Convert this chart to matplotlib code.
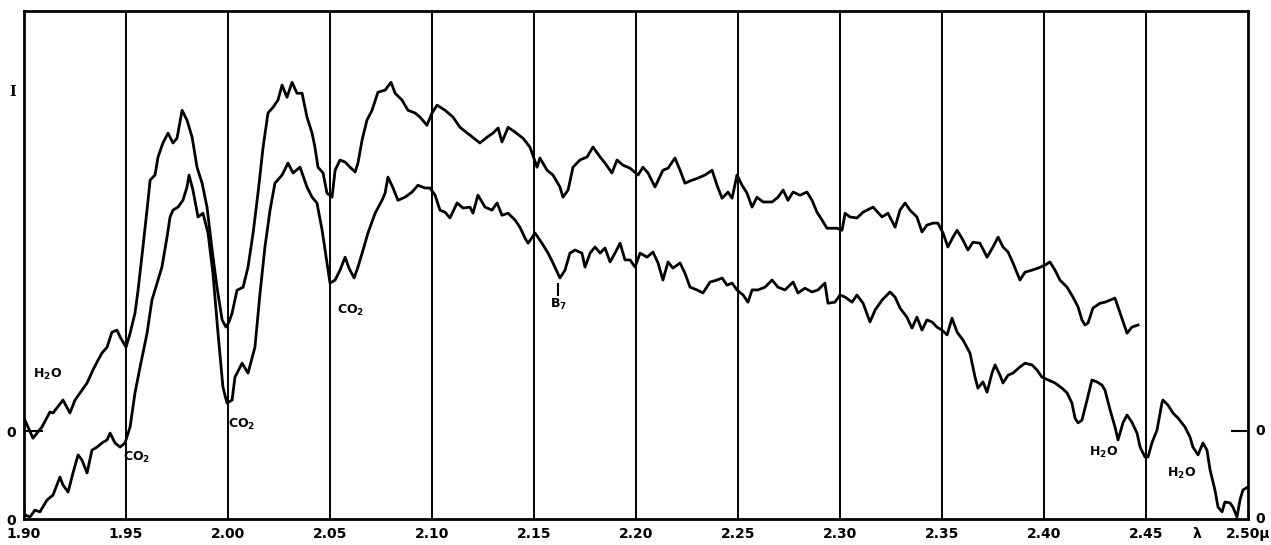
import numpy as np
import matplotlib
matplotlib.use("Agg")
import matplotlib.pyplot as plt

# wavelength grid labels (microns)
tick_pos = [1.90, 1.95, 2.00, 2.05, 2.10, 2.15, 2.20, 2.25, 2.30, 2.35, 2.40, 2.45, 2.50]
tick_lab = ["1.90", "1.95", "2.00", "2.05", "2.10", "2.15", "2.20", "2.25",
            "2.30", "2.35", "2.40", "2.45", "2.50\u00b5"]

# upper trace: wavelength (micron) and intensity relative to its own zero
upper_wl = [1.9000, 1.9044, 1.9088, 1.9127, 1.9142, 1.9191, 1.9225, 1.9250, 1.9284, 1.9309,
            1.9338, 1.9363, 1.9382, 1.9407, 1.9431, 1.9456, 1.9471, 1.9500, 1.9520, 1.9544,
            1.9559, 1.9583, 1.9608, 1.9618, 1.9642, 1.9657, 1.9681, 1.9706, 1.9730, 1.9750,
            1.9775, 1.9799, 1.9824, 1.9848, 1.9873, 1.9897, 1.9922, 1.9946, 1.9971, 1.9990,
            2.0005, 2.0020, 2.0044, 2.0074, 2.0098, 2.0123, 2.0147, 2.0172, 2.0196, 2.0221,
            2.0245, 2.0265, 2.0289, 2.0314, 2.0338, 2.0363, 2.0387, 2.0412, 2.0426, 2.0441,
            2.0466, 2.0485, 2.0510, 2.0525, 2.0549, 2.0574, 2.0598, 2.0623, 2.0637, 2.0657,
            2.0681, 2.0706, 2.0735, 2.0770, 2.0799, 2.0819, 2.0853, 2.0882, 2.0917, 2.0941,
            2.0975, 2.1000, 2.1025, 2.1064, 2.1103, 2.1137, 2.1186, 2.1235, 2.1270, 2.1299,
            2.1324, 2.1343, 2.1373, 2.1407, 2.1446, 2.1480, 2.1515, 2.1529, 2.1564, 2.1593,
            2.1627, 2.1642, 2.1667, 2.1691, 2.1725, 2.1760, 2.1789, 2.1824, 2.1848, 2.1882,
            2.1907, 2.1936, 2.1971, 2.2010, 2.2034, 2.2059, 2.2093, 2.2132, 2.2157, 2.2191,
            2.2216, 2.2240, 2.2275, 2.2304, 2.2338, 2.2373, 2.2397, 2.2422, 2.2451, 2.2471,
            2.2495, 2.2520, 2.2544, 2.2569, 2.2593, 2.2623, 2.2667, 2.2696, 2.2721, 2.2745,
            2.2770, 2.2804, 2.2838, 2.2863, 2.2887, 2.2912, 2.2936, 2.2961, 2.2985, 2.3010,
            2.3025, 2.3049, 2.3083, 2.3113, 2.3162, 2.3206, 2.3235, 2.3270, 2.3294, 2.3319,
            2.3343, 2.3377, 2.3402, 2.3426, 2.3456, 2.3480, 2.3505, 2.3529, 2.3554, 2.3574,
            2.3603, 2.3627, 2.3652, 2.3686, 2.3721, 2.3750, 2.3775, 2.3799, 2.3824, 2.3848,
            2.3882, 2.3907, 2.3941, 2.3971, 2.4005, 2.4029, 2.4054, 2.4078, 2.4113, 2.4142,
            2.4167, 2.4186, 2.4201, 2.4216, 2.4240, 2.4275, 2.4299, 2.4324, 2.4348, 2.4373,
            2.4407, 2.4431, 2.4461]
upper_val = [0.038, -0.021, 0.012, 0.056, 0.053, 0.091, 0.053, 0.091, 0.120, 0.141,
             0.179, 0.208, 0.229, 0.246, 0.290, 0.296, 0.276, 0.246, 0.287, 0.346,
             0.413, 0.540, 0.677, 0.736, 0.751, 0.804, 0.845, 0.874, 0.845, 0.859,
             0.941, 0.912, 0.862, 0.774, 0.727, 0.657, 0.531, 0.422, 0.326, 0.305,
             0.320, 0.346, 0.413, 0.422, 0.481, 0.581, 0.698, 0.833, 0.933, 0.950,
             0.971, 1.015, 0.979, 1.023, 0.991, 0.991, 0.921, 0.874, 0.833, 0.774,
             0.757, 0.698, 0.686, 0.765, 0.795, 0.789, 0.774, 0.760, 0.786, 0.853,
             0.912, 0.941, 0.994, 1.000, 1.023, 0.991, 0.971, 0.941, 0.933, 0.921,
             0.897, 0.933, 0.956, 0.941, 0.921, 0.891, 0.868, 0.845, 0.862, 0.874,
             0.889, 0.848, 0.891, 0.877, 0.859, 0.833, 0.774, 0.801, 0.765, 0.751,
             0.716, 0.686, 0.707, 0.774, 0.795, 0.804, 0.833, 0.804, 0.786, 0.757,
             0.795, 0.780, 0.771, 0.751, 0.774, 0.757, 0.716, 0.765, 0.771, 0.801,
             0.765, 0.727, 0.736, 0.742, 0.751, 0.765, 0.721, 0.683, 0.701, 0.683,
             0.751, 0.721, 0.698, 0.657, 0.686, 0.672, 0.672, 0.686, 0.707, 0.677,
             0.701, 0.692, 0.701, 0.677, 0.642, 0.619, 0.595, 0.595, 0.595, 0.589,
             0.639, 0.628, 0.625, 0.642, 0.657, 0.628, 0.639, 0.598, 0.648, 0.669,
             0.648, 0.628, 0.584, 0.604, 0.610, 0.610, 0.581, 0.540, 0.569, 0.589,
             0.560, 0.531, 0.554, 0.551, 0.510, 0.540, 0.569, 0.540, 0.525, 0.493,
             0.443, 0.466, 0.472, 0.478, 0.487, 0.496, 0.472, 0.443, 0.422, 0.393,
             0.364, 0.326, 0.311, 0.317, 0.361, 0.375, 0.378, 0.384, 0.390, 0.346,
             0.287, 0.305, 0.311]

# lower trace: wavelength (micron) and intensity relative to the bottom zero
lower_wl = [1.9005, 1.9029, 1.9054, 1.9078, 1.9113, 1.9142, 1.9176, 1.9191, 1.9216, 1.9240,
            1.9265, 1.9284, 1.9309, 1.9333, 1.9358, 1.9382, 1.9407, 1.9422, 1.9446, 1.9471,
            1.9495, 1.9520, 1.9544, 1.9569, 1.9603, 1.9627, 1.9652, 1.9676, 1.9701, 1.9716,
            1.9730, 1.9755, 1.9779, 1.9799, 1.9809, 1.9828, 1.9853, 1.9877, 1.9902, 1.9926,
            1.9951, 1.9975, 1.9995, 2.0020, 2.0034, 2.0069, 2.0098, 2.0132, 2.0157, 2.0181,
            2.0206, 2.0230, 2.0265, 2.0294, 2.0319, 2.0353, 2.0387, 2.0412, 2.0436, 2.0461,
            2.0485, 2.0500, 2.0525, 2.0549, 2.0574, 2.0593, 2.0618, 2.0637, 2.0662, 2.0686,
            2.0721, 2.0755, 2.0770, 2.0784, 2.0809, 2.0833, 2.0868, 2.0902, 2.0931, 2.0966,
            2.0990, 2.1015, 2.1039, 2.1064, 2.1088, 2.1123, 2.1152, 2.1186, 2.1201, 2.1225,
            2.1260, 2.1294, 2.1319, 2.1343, 2.1373, 2.1407, 2.1431, 2.1456, 2.1471, 2.1505,
            2.1539, 2.1569, 2.1593, 2.1627, 2.1652, 2.1676, 2.1701, 2.1735, 2.1750, 2.1775,
            2.1799, 2.1824, 2.1848, 2.1873, 2.1897, 2.1922, 2.1946, 2.1971, 2.1995, 2.2020,
            2.2054, 2.2083, 2.2108, 2.2132, 2.2157, 2.2181, 2.2216, 2.2240, 2.2265, 2.2299,
            2.2328, 2.2363, 2.2397, 2.2422, 2.2446, 2.2471, 2.2495, 2.2525, 2.2549, 2.2569,
            2.2598, 2.2632, 2.2667, 2.2696, 2.2730, 2.2770, 2.2794, 2.2828, 2.2863, 2.2892,
            2.2926, 2.2941, 2.2975, 2.3000, 2.3025, 2.3059, 2.3083, 2.3113, 2.3147, 2.3172,
            2.3206, 2.3245, 2.3270, 2.3294, 2.3328, 2.3353, 2.3377, 2.3402, 2.3426, 2.3451,
            2.3475, 2.3500, 2.3525, 2.3549, 2.3574, 2.3603, 2.3637, 2.3662, 2.3676, 2.3701,
            2.3721, 2.3745, 2.3760, 2.3784, 2.3799, 2.3824, 2.3848, 2.3882, 2.3907, 2.3941,
            2.3966, 2.3990, 2.4020, 2.4054, 2.4088, 2.4113, 2.4137, 2.4152, 2.4167, 2.4186,
            2.4211, 2.4235, 2.4260, 2.4284, 2.4299, 2.4324, 2.4348, 2.4363, 2.4387, 2.4407,
            2.4431, 2.4456, 2.4471, 2.4495, 2.4510, 2.4529, 2.4554, 2.4578, 2.4583, 2.4608,
            2.4632, 2.4657, 2.4691, 2.4716, 2.4730, 2.4755, 2.4779, 2.4799, 2.4814, 2.4838,
            2.4853, 2.4873, 2.4887, 2.4912, 2.4926, 2.4946, 2.4961, 2.4975, 2.5000]
lower_val = [0.012, 0.006, 0.026, 0.021, 0.056, 0.070, 0.123, 0.100, 0.079, 0.135,
             0.188, 0.173, 0.135, 0.202, 0.211, 0.223, 0.232, 0.252, 0.223, 0.211,
             0.223, 0.270, 0.370, 0.446, 0.545, 0.642, 0.692, 0.739, 0.827, 0.886,
             0.906, 0.915, 0.935, 0.974, 1.009, 0.965, 0.886, 0.897, 0.839, 0.721,
             0.545, 0.387, 0.340, 0.349, 0.416, 0.457, 0.428, 0.504, 0.663, 0.798,
             0.906, 0.985, 1.009, 1.044, 1.015, 1.032, 0.974, 0.944, 0.927, 0.848,
             0.751, 0.692, 0.701, 0.730, 0.768, 0.736, 0.707, 0.739, 0.789, 0.839,
             0.897, 0.935, 0.956, 1.003, 0.971, 0.935, 0.944, 0.959, 0.979, 0.971,
             0.971, 0.950, 0.906, 0.900, 0.883, 0.927, 0.912, 0.915, 0.897, 0.950,
             0.915, 0.906, 0.927, 0.891, 0.897, 0.877, 0.856, 0.824, 0.809, 0.839,
             0.809, 0.780, 0.751, 0.707, 0.730, 0.780, 0.789, 0.780, 0.739, 0.780,
             0.798, 0.780, 0.795, 0.754, 0.780, 0.809, 0.760, 0.760, 0.739, 0.780,
             0.768, 0.783, 0.751, 0.701, 0.754, 0.736, 0.751, 0.721, 0.680, 0.672,
             0.663, 0.695, 0.701, 0.707, 0.686, 0.692, 0.672, 0.657, 0.636, 0.672,
             0.672, 0.680, 0.701, 0.680, 0.672, 0.695, 0.663, 0.677, 0.666, 0.672,
             0.692, 0.633, 0.636, 0.657, 0.651, 0.636, 0.657, 0.633, 0.578, 0.613,
             0.642, 0.666, 0.651, 0.619, 0.592, 0.560, 0.592, 0.554, 0.584, 0.578,
             0.563, 0.554, 0.540, 0.589, 0.548, 0.525, 0.487, 0.416, 0.384, 0.402,
             0.372, 0.428, 0.452, 0.422, 0.399, 0.422, 0.428, 0.446, 0.457, 0.452,
             0.437, 0.416, 0.408, 0.399, 0.384, 0.370, 0.340, 0.296, 0.282, 0.290,
             0.349, 0.408, 0.402, 0.393, 0.378, 0.320, 0.270, 0.232, 0.282, 0.305,
             0.284, 0.252, 0.211, 0.182, 0.182, 0.223, 0.261, 0.340, 0.349, 0.334,
             0.311, 0.296, 0.270, 0.240, 0.211, 0.188, 0.223, 0.202, 0.144, 0.085,
             0.035, 0.021, 0.050, 0.047, 0.035, 0.006, 0.056, 0.085, 0.094]

upper_offset = 0.258  # upper trace is shifted up so both fit in one frame

# absorption feature labels: (wavelength, height, text)
feat_wl = [1.9045, 1.9485, 2.0000, 2.0535, 2.1580, 2.4220, 2.4605]
feat_y = [0.423, 0.182, 0.276, 0.611, 0.628, 0.194, 0.135]
feat_txt = [r"$\mathbf{H_2O}$", r"$\mathbf{CO_2}$", r"$\mathbf{CO_2}$", r"$\mathbf{CO_2}$",
            r"$\mathbf{B_7}$", r"$\mathbf{H_2O}$", r"$\mathbf{H_2O}$"]

fig = plt.figure(figsize=(12.71, 5.45), dpi=100)
ax = fig.add_axes([0.0189, 0.0477, 0.963, 0.932])

ax.plot(upper_wl, np.array(upper_val) + upper_offset, color="black", lw=2.0,
        solid_joinstyle="round")
ax.plot(lower_wl, lower_val, color="black", lw=2.0, solid_joinstyle="round")

for x in tick_pos[1:-1]:
    ax.axvline(x, color="black", lw=1.4, zorder=0)

ax.set_xlim(1.90, 2.50)
ax.set_ylim(0, 1.49)
for s in ax.spines.values():
    s.set_linewidth(2.0)

ax.set_xticks(tick_pos)
ax.set_xticklabels(tick_lab, fontsize=10, fontweight="bold")
ax.tick_params(axis="x", length=0, pad=6)
ax.set_yticks([0, upper_offset, upper_offset + 1])
ax.set_yticklabels(["0", "0", "I"], fontsize=10, fontweight="bold")
ax.get_yticklabels()[2].set_family("DejaVu Serif")
ax.tick_params(axis="y", length=0, pad=6)

# short zero markers for the upper trace on both sides
ax.plot([1.900, 1.909], [upper_offset, upper_offset], color="black", lw=1.5)
ax.plot([2.492, 2.500], [upper_offset, upper_offset], color="black", lw=1.5)

ytr = ax.get_yaxis_transform()
for yy in [0, upper_offset]:
    ax.text(1.006, yy, "0", transform=ytr, fontsize=10, fontweight="bold",
            ha="left", va="center", clip_on=False)

ax.text(2.475, -0.045, "\u03bb", fontsize=10, fontweight="bold",
        ha="center", va="center", clip_on=False)

for wl, yy, txt in zip(feat_wl, feat_y, feat_txt):
    ax.text(wl, yy, txt, fontsize=9, ha="left", va="center")

# marker tick above the B7 label
ax.plot([2.1620, 2.1620], [0.656, 0.690], color="black", lw=1.5)

fig.savefig("out.png", dpi=100)
